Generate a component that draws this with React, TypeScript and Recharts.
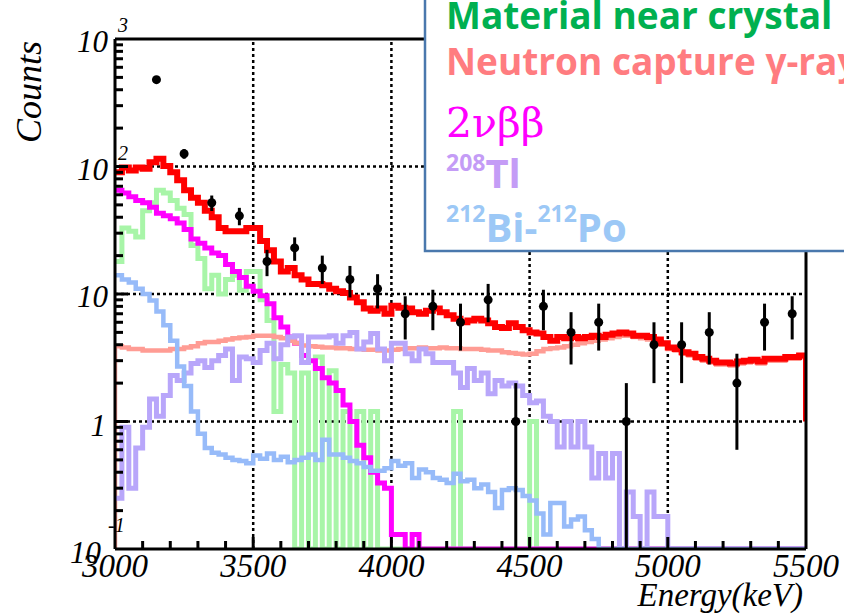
import React from 'react';
import { ComposedChart, Line, Scatter, ErrorBar, XAxis, YAxis, ReferenceLine } from 'recharts';

// histogram bins: 25 keV wide, starting at 3000 keV
const BIN_START = 3000;
const BIN_WIDTH = 25;
const FLOOR = 0.1;

const total = [
  90, 98, 93, 98, 96, 108, 115, 101, 90, 78,
  65, 57, 52, 45, 40, 33, 31, 31, 31, 33,
  33, 26, 22, 18, 15, 16, 14, 13, 12, 12,
  11.7, 11, 10.5, 10.2, 9.4, 8.6, 7.7, 7.4, 7.7, 7.0,
  8.1, 7.8, 7.7, 7.2, 7.0, 7.4, 7.7, 7.2, 6.8, 6.4,
  6.0, 6.2, 6.4, 6.2, 5.9, 5.5, 5.4, 5.9, 5.5, 5.2,
  5.0, 4.9, 4.6, 4.3, 4.6, 4.5, 4.6, 4.5, 4.6, 4.7,
  4.6, 4.8, 4.9, 5.0, 4.9, 4.7, 4.7, 4.6, 4.4, 4.1,
  3.8, 3.7, 3.5, 3.4, 3.2, 3.1, 3.0, 2.9, 2.9, 2.85,
  2.95, 3.0, 3.05, 2.95, 3.1, 3.1, 3.1, 3.2, 3.2, 3.3,
];

const neutron = [
  3.9, 3.8, 3.7, 3.7, 3.6, 3.6, 3.6, 3.6, 3.7, 3.7,
  3.8, 3.9, 4.1, 4.2, 4.2, 4.3, 4.4, 4.5, 4.55, 4.6,
  4.7, 4.7, 4.7, 4.6, 4.5, 4.3, 4.1, 3.95, 3.9, 3.85,
  3.8, 3.8, 3.75, 3.75, 3.7, 3.7, 3.65, 3.65, 3.6, 3.6,
  3.65, 3.7, 3.75, 3.75, 3.8, 3.75, 3.75, 3.8, 3.75, 3.75,
  3.7, 3.7, 3.7, 3.65, 3.6, 3.6, 3.5, 3.45, 3.4, 3.35,
  3.4, 3.55, 3.7, 3.75, 3.8, 3.9, 4.0, 4.1, 4.2, 4.3,
  4.4, 4.5, 4.6, 4.7, 4.7, 4.6, 4.5, 4.4, 4.3, 4.0,
  3.7, 3.6, 3.4, 3.3, 3.1, 3.0, 2.9, 2.8, 2.8, 2.75,
  2.85, 2.9, 2.95, 2.85, 3.0, 3.0, 3.0, 3.1, 3.1, 3.2,
];

const twoNu = [
  65, 62, 58, 54, 52, 48, 43, 41, 39, 36,
  32, 27, 25, 23, 21, 20, 17, 15, 13.5, 11.5,
  10.5, 9.7, 8.4, 6.5, 5.5, 4.6, 4.1, 3.3, 3.0, 2.6,
  2.2, 2.0, 1.75, 1.35, 1.0, 0.65, 0.52, 0.4, 0.33, 0.3,
  0.13, 0.13, 0, 0.13, 0, 0, 0, 0, 0, 0,
  0, 0, 0, 0, 0, 0, 0, 0, 0, 0,
  0, 0, 0, 0, 0, 0, 0, 0, 0, 0,
  0, 0, 0, 0, 0, 0, 0, 0, 0, 0,
  0, 0, 0, 0, 0, 0, 0, 0, 0, 0,
  0, 0, 0, 0, 0, 0, 0, 0, 0, 0,
];

const material = [
  18, 33, 31, 28, 45, 52, 65, 62, 54, 47,
  42, 24, 19, 11, 14, 10, 13, 14, 10.7, 15,
  15, 9, 6.2, 1.2, 2.8, 2.4, 0, 2.4, 0, 3.2,
  0, 2.5, 0, 1.2, 0, 1.2, 0, 1.2, 0, 0,
  0, 0, 0, 0, 0, 0, 0, 0, 0, 1.2,
  0, 0, 0, 0, 0, 0, 0, 0, 0, 0,
  1.0, 0, 0, 0, 0, 0, 0, 0, 0, 0,
  0, 0, 0, 0, 0, 0, 0, 0, 0, 0,
  0, 0, 0, 0, 0, 0, 0, 0, 0, 0,
  0, 0, 0, 0, 0, 0, 0, 0, 0, 0,
];

const tl208 = [
  0.25, 0.9, 0.3, 0.62, 0.9, 1.5, 1.1, 1.6, 2.3, 2.1,
  2.4, 2.85, 3.0, 2.65, 3.0, 3.3, 3.7, 2.1, 3.2, 3.1,
  2.9, 3.6, 4.1, 3.1, 4.0, 4.6, 4.7, 2.9, 4.6, 4.6,
  4.6, 4.7, 4.1, 4.7, 5.0, 3.7, 4.2, 4.9, 3.7, 3.0,
  4.1, 4.1, 3.4, 3.0, 3.7, 3.4, 2.9, 2.9, 2.9, 2.4,
  1.85, 2.6, 2.1, 2.4, 1.65, 2.1, 1.9, 2.0, 1.9, 1.6,
  1.4, 1.45, 1.1, 1.0, 0.63, 1.0, 0.63, 1.0, 0.63, 0.36,
  0.56, 0.36, 0.56, 0, 0.28, 0.18, 0, 0.28, 0.18, 0.18,
  0, 0, 0, 0, 0, 0, 0, 0, 0, 0,
  0, 0, 0, 0, 0, 0, 0, 0, 0, 0,
];

const biPo = [
  14, 13, 12.3, 11, 10, 8.9, 7.3, 5.7, 4.3, 2.7,
  1.9, 1.2, 0.8, 0.62, 0.57, 0.55, 0.52, 0.5, 0.49, 0.47,
  0.54, 0.51, 0.56, 0.5, 0.53, 0.48, 0.5, 0.52, 0.55, 0.5,
  0.72, 0.55, 0.55, 0.52, 0.49, 0.47, 0.44, 0.41, 0.41, 0.43,
  0.49, 0.45, 0.47, 0.36, 0.42, 0.4, 0.36, 0.35, 0.33, 0.39,
  0.34, 0.35, 0.3, 0.32, 0.28, 0.21, 0.29, 0.3, 0.29, 0.26,
  0.24, 0.19, 0.13, 0.23, 0.23, 0.15, 0.17, 0.18, 0.14, 0.12,
  0.1, 0, 0, 0, 0, 0, 0, 0, 0, 0,
  0, 0, 0, 0, 0, 0, 0, 0, 0, 0,
  0, 0, 0, 0, 0, 0, 0, 0, 0, 0,
];

// measured data (100 keV bins)
const dataE = [3150, 3250, 3350, 3450, 3550, 3650, 3750, 3850, 3950, 4050, 4150, 4250,
  4350, 4450, 4550, 4650, 4750, 4850, 4950, 5050, 5150, 5250, 5350, 5450];
const dataCounts = [480, 126, 52, 41, 18, 23, 16, 13, 11, 7, 8, 6, 9, 1, 8, 5, 6, 1, 4, 4, 5, 2, 6, 7];
const errLow = [22, 11, 7.2, 6.4, 4.2, 4.8, 4, 3.6, 3.3, 2.6, 2.8, 2.4, 3, 0.9, 2.8, 2.2, 2.4, 0.9, 2, 2, 2.2, 1.4, 2.4, 2.6];
const errHigh = [22, 11, 7.2, 6.4, 4.2, 4.8, 4, 3.6, 3.3, 2.6, 2.8, 2.4, 3, 1, 2.8, 2.2, 2.4, 1, 2, 2, 2.2, 1.4, 2.4, 2.6];

const xTicks = [3000, 3100, 3200, 3300, 3400, 3500, 3600, 3700, 3800, 3900, 4000, 4100, 4200,
  4300, 4400, 4500, 4600, 4700, 4800, 4900, 5000, 5100, 5200, 5300, 5400, 5500];
const yTicks = [0.1, 0.2, 0.3, 0.4, 0.5, 0.6, 0.7, 0.8, 0.9, 1, 2, 3, 4, 5, 6, 7, 8, 9,
  10, 20, 30, 40, 50, 60, 70, 80, 90, 100, 200, 300, 400, 500, 600, 700, 800, 900, 1000];
const xGrid = [3500, 4000, 4500, 5000];
const yGrid = [1, 10, 100];

const fl = (v: number) => (v > FLOOR ? v : FLOOR);

const rows: any[] = [{ e: BIN_START, neutron: FLOOR }];
total.forEach((_, i) => {
  rows.push({
    e: BIN_START + i * BIN_WIDTH,
    total: fl(total[i]),
    neutron: fl(neutron[i]),
    twoNu: fl(twoNu[i]),
    material: fl(material[i]),
    tl208: fl(tl208[i]),
    biPo: fl(biPo[i]),
  });
});
const last = total.length - 1;
rows.push({
  e: BIN_START + total.length * BIN_WIDTH,
  total: fl(total[last]),
  neutron: fl(neutron[last]),
  twoNu: fl(twoNu[last]),
  material: fl(material[last]),
  tl208: fl(tl208[last]),
  biPo: fl(biPo[last]),
});
rows.push({ e: BIN_START + total.length * BIN_WIDTH, total: 1 });

const points = dataE.map((e, i) => ({ e, v: dataCounts[i], err: [errLow[i], errHigh[i]] }));

const isDecade = (v: number) => Math.abs(Math.log10(v) - Math.round(Math.log10(v))) < 1e-6;

// inward tick marks, placed through the chart scales
const xTickMarks = xTicks.slice(1, -1).map((t) => ({ e: t, v: FLOOR, major: t % 500 === 0 }));
const yTickMarks = yTicks.slice(1, -1).map((t) => ({ e: BIN_START, v: t, major: isDecade(t) }));

const XTickMark = (p: any) => (
  <line x1={p.cx} x2={p.cx} y1={p.cy} y2={p.cy - (p.payload.major ? 12 : 8)} stroke="#000" strokeWidth={3} />
);
const YTickMark = (p: any) => (
  <line x1={p.cx} x2={p.cx + (p.payload.major ? 13 : 8)} y1={p.cy} y2={p.cy} stroke="#000" strokeWidth={3} />
);

const FONT = "'Liberation Serif', 'Times New Roman', serif";

const XTick = (props: any) => {
  const { x, y, payload } = props;
  const v = payload.value;
  if (v % 500 !== 0) return <g />;
  return (
    <text x={x} y={y + 28} textAnchor="middle" fontFamily={FONT} fontStyle="italic" fontSize={33} fill="#000">
      {v}
    </text>
  );
};

const YTick = (props: any) => {
  const { x, y, payload } = props;
  const v = payload.value;
  const txt = { fontFamily: FONT, fontStyle: 'italic' as const, fill: '#000' };
  if (v === 1000 || v === 100) {
    return (
      <g>
        <text x={x - 7} y={y + 13} textAnchor="end" fontSize={31} {...txt}>10</text>
        <text x={x + 3} y={y - 7} fontSize={20} {...txt}>{v === 1000 ? '3' : '2'}</text>
      </g>
    );
  }
  if (v === 10) return <text x={x - 7} y={y + 13} textAnchor="end" fontSize={31} {...txt}>10</text>;
  if (v === 1) return <text x={x - 9} y={y + 14} textAnchor="end" fontSize={31} {...txt}>1</text>;
  if (v === 0.1) {
    return (
      <g>
        <text x={x - 14} y={y + 14} textAnchor="end" fontSize={31} {...txt}>10</text>
        <text x={x - 7} y={y - 17} fontSize={20} {...txt}>-1</text>
      </g>
    );
  }
  return <g />;
};

const Dot = (props: any) => <circle cx={props.cx} cy={props.cy} r={4.5} fill="#000" />;

const legendFont = "'Open Sans', Lato, sans-serif";

export default function App() {
  return (
    <div style={{ position: 'absolute', left: 0, top: 0, width: 844, height: 614, overflow: 'hidden', background: '#fff' }}>
      <ComposedChart width={844} height={614} data={rows} margin={{ top: 39, right: 38, bottom: 35, left: 55 }}>
        <XAxis dataKey="e" type="number" domain={[3000, 5500]} ticks={xTicks} interval={0} height={30}
          axisLine={false} tickLine={false} tickSize={0} tickMargin={0} allowDataOverflow
          tick={(p: any) => <XTick {...p} />} />
        <YAxis type="number" scale="log" domain={[0.1, 1000]} ticks={yTicks} interval={0} width={60}
          axisLine={false} tickLine={false} tickSize={0} tickMargin={0} allowDataOverflow
          tick={(p: any) => <YTick {...p} />} />
        {xGrid.map((g) => (
          <ReferenceLine key={'x' + g} x={g} stroke="#000" strokeWidth={2.5} strokeDasharray="3 3" />
        ))}
        {yGrid.map((g) => (
          <ReferenceLine key={'y' + g} y={g} stroke="#000" strokeWidth={2.5} strokeDasharray="3 3" />
        ))}
        <Line type="stepAfter" dataKey="material" stroke="#a8f5a8" strokeWidth={5} dot={false} activeDot={false} isAnimationActive={false} />
        <Line type="stepAfter" dataKey="twoNu" stroke="#ff00ff" strokeWidth={5} dot={false} activeDot={false} isAnimationActive={false} />
        <Line type="stepAfter" dataKey="neutron" stroke="#ff9c94" strokeWidth={4.5} dot={false} activeDot={false} isAnimationActive={false} />
        <Line type="stepAfter" dataKey="tl208" stroke="#b8a6fa" strokeWidth={5} dot={false} activeDot={false} isAnimationActive={false} />
        <Line type="stepAfter" dataKey="biPo" stroke="#97bbf9" strokeWidth={4.5} dot={false} activeDot={false} isAnimationActive={false} />
        <Line type="stepAfter" dataKey="total" stroke="#ff0000" strokeWidth={6} dot={false} activeDot={false} isAnimationActive={false} />
        <ReferenceLine x={3000} stroke="#000" strokeWidth={3} />
        <ReferenceLine x={5500} stroke="#000" strokeWidth={3} />
        <ReferenceLine y={0.1} stroke="#000" strokeWidth={3} />
        <ReferenceLine y={1000} stroke="#000" strokeWidth={3} />
        <Scatter data={xTickMarks} dataKey="v" shape={XTickMark} isAnimationActive={false} legendType="none" />
        <Scatter data={yTickMarks} dataKey="v" shape={YTickMark} isAnimationActive={false} legendType="none" />
        <Scatter data={points} dataKey="v" fill="#000" shape={Dot} isAnimationActive={false}>
          <ErrorBar dataKey="err" direction="y" width={0} stroke="#000" strokeWidth={3} isAnimationActive={false} />
        </Scatter>
      </ComposedChart>
      <svg width={844} height={614} style={{ position: 'absolute', left: 0, top: 0, pointerEvents: 'none' }}>
        <text x={41} y={92} transform="rotate(-90, 41, 92)" textAnchor="middle" fontFamily={FONT} fontStyle="italic" fontSize={36} fill="#000">Counts</text>
        <text x={803} y={606} textAnchor="end" fontFamily={FONT} fontStyle="italic" fontSize={33} fill="#000">Energy(keV)</text>
        <rect x={425} y={-5} width={500} height={256} fill="#fff" stroke="#4a78ad" strokeWidth={2.5} />
        <text x={446} y={29} fontFamily={legendFont} fontWeight="bold" fontSize={37} fill="#00b050">Material near crystal</text>
        <text x={446} y={75} fontFamily={legendFont} fontWeight="bold" fontSize={37} fill="#ff7c80">Neutron capture γ-ray</text>
        <text x={446} y={137} fontFamily="'DejaVu Serif', serif" fontSize={41} fill="#ff00ff">2νββ</text>
        <text x={446} y={188} fontFamily={legendFont} fontWeight="bold" fill="#c49cf6">
          <tspan fontSize={23} dy={-17}>208</tspan>
          <tspan fontSize={40} dy={17}>Tl</tspan>
        </text>
        <text x={446} y={242} fontFamily={legendFont} fontWeight="bold" fill="#9cc8f6">
          <tspan fontSize={23} dy={-20}>212</tspan>
          <tspan fontSize={40} dy={20}>Bi-</tspan>
          <tspan fontSize={23} dy={-20}>212</tspan>
          <tspan fontSize={40} dy={20}>Po</tspan>
        </text>
      </svg>
    </div>
  );
}
